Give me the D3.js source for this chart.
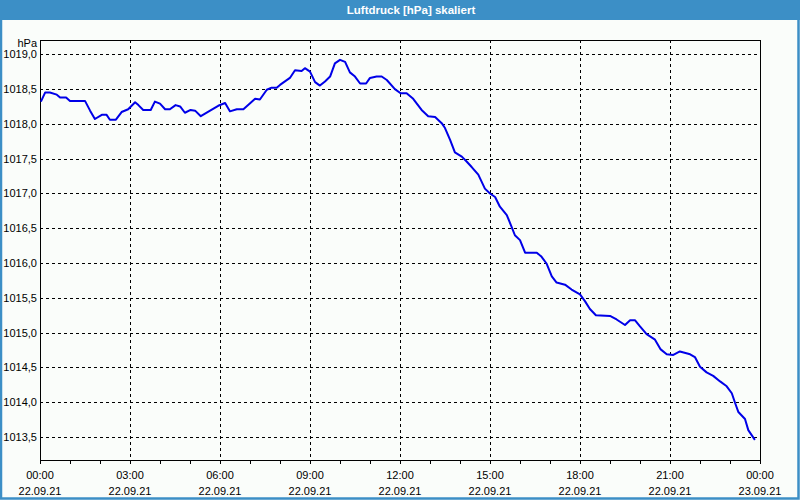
<!DOCTYPE html>
<html><head><meta charset="utf-8">
<script src="https://cdn.jsdelivr.net/npm/d3@7"></script>
<style>html,body{margin:0;padding:0;background:#fafdfa;}</style>
</head><body>
<svg id="c" width="800" height="500"></svg>
<script>
const title = "Luftdruck [hPa] skaliert";
const unitLabel = "hPa";
// time in hours since 22.09.21 00:00
const hours = [0.03,0.17,0.33,0.56,0.67,0.87,1.0,1.5,1.67,1.83,2.06,2.22,2.33,2.53,2.72,2.94,3.17,3.28,3.44,3.69,3.83,4.0,4.17,4.33,4.52,4.67,4.83,5.02,5.17,5.36,5.67,5.94,6.17,6.33,6.56,6.78,7.17,7.33,7.56,7.72,7.89,8.0,8.33,8.5,8.72,8.83,9.0,9.17,9.33,9.5,9.67,9.83,10.0,10.17,10.33,10.5,10.67,10.87,11.0,11.22,11.39,11.56,11.83,12.02,12.22,12.44,12.72,12.94,13.17,13.39,13.5,13.67,13.83,14.06,14.22,14.39,14.61,14.83,15.0,15.17,15.33,15.56,15.72,15.83,16.0,16.17,16.56,16.72,16.89,17.06,17.22,17.5,17.72,18.0,18.17,18.33,18.53,19.0,19.22,19.5,19.67,19.83,20.0,20.22,20.5,20.69,20.89,21.11,21.33,21.67,21.83,22.0,22.22,22.44,22.67,22.89,23.06,23.17,23.28,23.5,23.61,23.83];
const pressure = [1018.32,1018.45,1018.45,1018.42,1018.38,1018.38,1018.33,1018.33,1018.19,1018.07,1018.13,1018.13,1018.06,1018.06,1018.17,1018.21,1018.31,1018.27,1018.20,1018.20,1018.32,1018.29,1018.21,1018.21,1018.27,1018.25,1018.16,1018.20,1018.19,1018.11,1018.19,1018.26,1018.30,1018.18,1018.21,1018.21,1018.36,1018.35,1018.49,1018.52,1018.52,1018.56,1018.66,1018.77,1018.76,1018.80,1018.75,1018.60,1018.55,1018.61,1018.68,1018.87,1018.92,1018.89,1018.74,1018.68,1018.58,1018.58,1018.66,1018.68,1018.68,1018.63,1018.50,1018.44,1018.44,1018.36,1018.20,1018.11,1018.10,1018.01,1017.94,1017.77,1017.59,1017.53,1017.46,1017.38,1017.27,1017.07,1017.00,1016.95,1016.81,1016.69,1016.52,1016.40,1016.33,1016.15,1016.15,1016.09,1015.99,1015.81,1015.72,1015.69,1015.62,1015.55,1015.45,1015.34,1015.25,1015.24,1015.19,1015.11,1015.18,1015.18,1015.09,1014.98,1014.90,1014.76,1014.69,1014.68,1014.73,1014.69,1014.65,1014.51,1014.43,1014.38,1014.30,1014.23,1014.13,1013.99,1013.86,1013.76,1013.60,1013.46];
const yTicks = [1013.5,1014.0,1014.5,1015.0,1015.5,1016.0,1016.5,1017.0,1017.5,1018.0,1018.5,1019.0];
const xTickHours = [0,3,6,9,12,15,18,21,24];
const xTickTimes = ["00:00","03:00","06:00","09:00","12:00","15:00","18:00","21:00","00:00"];
const xTickDates = ["22.09.21","22.09.21","22.09.21","22.09.21","22.09.21","22.09.21","22.09.21","22.09.21","23.09.21"];
const minorHours = d3.range(0, 25, 1);

const svg = d3.select("#c");
const W = 800, H = 500;
const L = 40, R = 760, T = 40, B = 460;
const font = "'Liberation Sans', Arial, sans-serif";

svg.append("rect").attr("x",0).attr("y",0).attr("width",W).attr("height",H).attr("fill","#fafdfa");
svg.append("rect").attr("x",1).attr("y",1).attr("width",W-2.5).attr("height",H-2.5)
  .attr("fill","none").attr("stroke","#3c8fc6").attr("stroke-width",2.5);
svg.append("rect").attr("x",0).attr("y",0).attr("width",W).attr("height",20).attr("fill","#3c8fc6");
svg.append("text").attr("x",411).attr("y",14).attr("text-anchor","middle")
  .attr("fill","#ffffff").attr("font-family",font).attr("font-weight","bold").attr("font-size","11.5px")
  .text(title);

const x = d3.scaleLinear().domain([0,24]).range([L,R]);
const y = d3.scaleLinear().domain([1013.171,1019.205]).range([B,T]);

const g = svg.append("g");
g.selectAll("line.hg").data(yTicks).enter().append("line")
  .attr("x1",L).attr("x2",R)
  .attr("y1",d=>Math.round(y(d))+0.5).attr("y2",d=>Math.round(y(d))+0.5)
  .attr("stroke","#000").attr("stroke-width",1).attr("stroke-dasharray","3,3");
g.selectAll("line.vg").data(xTickHours.filter(h=>h>0&&h<24)).enter().append("line")
  .attr("y1",T).attr("y2",B)
  .attr("x1",d=>Math.round(x(d))+0.5).attr("x2",d=>Math.round(x(d))+0.5)
  .attr("stroke","#000").attr("stroke-width",1).attr("stroke-dasharray","3,3");

g.selectAll("line.mt").data(minorHours).enter().append("line")
  .attr("x1",d=>Math.round(x(d))+0.5).attr("x2",d=>Math.round(x(d))+0.5)
  .attr("y1",B).attr("y2",B+4).attr("stroke","#000");

svg.append("rect").attr("x",L+0.5).attr("y",T+0.5).attr("width",R-L).attr("height",B-T)
  .attr("fill","none").attr("stroke","#000").attr("stroke-width",1);

const line = d3.line().x((d,i)=>x(hours[i])).y(d=>y(d));
svg.append("path").datum(pressure).attr("d",line)
  .attr("fill","none").attr("stroke","#0000e8").attr("stroke-width",2).attr("stroke-linejoin","round");

svg.selectAll("text.yl").data(yTicks).enter().append("text")
  .attr("x",37).attr("y",d=>Math.round(y(d))+4).attr("text-anchor","end")
  .attr("font-family",font).attr("font-size","11px").attr("fill","#000")
  .text(d=>d3.format(".1f")(d).replace(".",","));
svg.append("text").attr("x",37).attr("y",46.5).attr("text-anchor","end")
  .attr("font-family",font).attr("font-size","11px").attr("fill","#000").text(unitLabel);

svg.selectAll("text.xt").data(xTickHours).enter().append("text")
  .attr("x",d=>x(d)).attr("y",479).attr("text-anchor","middle")
  .attr("font-family",font).attr("font-size","11px").attr("fill","#000")
  .text((d,i)=>xTickTimes[i]);
svg.selectAll("text.xd").data(xTickHours).enter().append("text")
  .attr("x",d=>x(d)).attr("y",495).attr("text-anchor","middle")
  .attr("font-family",font).attr("font-size","11px").attr("fill","#000")
  .text((d,i)=>xTickDates[i]);
</script>
</body></html>
